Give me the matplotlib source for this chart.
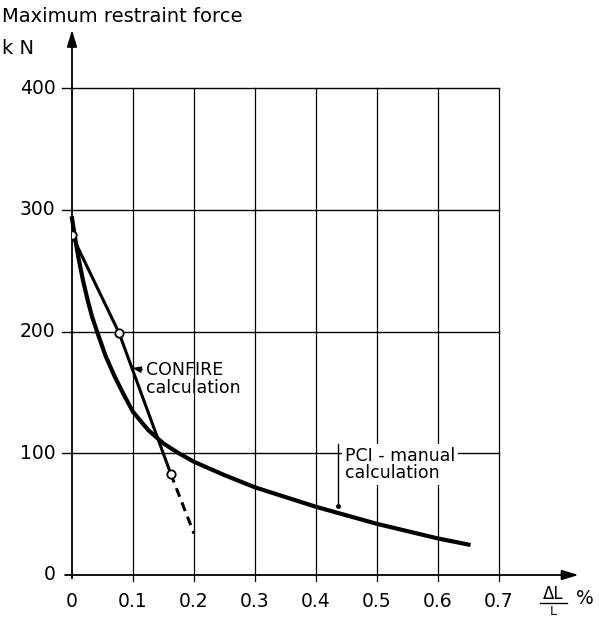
import numpy as np
import matplotlib
matplotlib.use('Agg')
import matplotlib.pyplot as plt

# PCI-manual calculation curve
pci_x = [0.0, 0.005, 0.01, 0.018, 0.026, 0.033, 0.041, 0.055, 0.07, 0.084, 0.1,
         0.125, 0.15, 0.175, 0.2, 0.25, 0.3, 0.35, 0.4, 0.45, 0.5, 0.55, 0.6, 0.65]
pci_y = [293, 277, 262, 242, 225, 212, 200, 180, 163, 149, 134,
         119, 108, 100, 93, 82, 72, 64, 56, 49, 42, 36, 30, 25]

# CONFIRE calculation points, solid part and dashed extrapolation
confire_x = [0.0, 0.077, 0.162]
confire_y = [279, 199, 83]
confire_dash_x = [0.162, 0.2]
confire_dash_y = [83, 34]

xticks = [0, 0.1, 0.2, 0.3, 0.4, 0.5, 0.6, 0.7]
xticklabels = ['0', '0.1', '0.2', '0.3', '0.4', '0.5', '0.6', '0.7']
yticks = [0, 100, 200, 300, 400]

W, H = 599, 620
fig = plt.figure(figsize=(W / 100, H / 100), dpi=100)
# axes placed so that x 0..0.7 -> px 72..499, y 0..400 -> px 575..88
ax = fig.add_axes([72 / W, (H - 575) / H, (499 - 72) / W, (575 - 88) / H])
ax.set_xlim(0, 0.7)
ax.set_ylim(0, 400)
ax.axis('off')

# grid
for x in xticks[1:]:
    ax.plot([x, x], [-5, 400], color='black', lw=0.9, clip_on=False)
for y in yticks[1:]:
    ax.plot([-0.016, 0.7], [y, y], color='black', lw=1.0, clip_on=False)

# axes with arrows
ax.annotate('', xy=(0, 450), xytext=(0, -5), annotation_clip=False,
            arrowprops=dict(arrowstyle='-|>,head_length=1.0,head_width=0.3',
                            color='black', lw=1.3))
ax.annotate('', xy=(0.835, 0), xytext=(-0.016, 0), annotation_clip=False,
            arrowprops=dict(arrowstyle='-|>,head_length=1.0,head_width=0.3',
                            color='black', lw=1.3))

# tick labels
for x, lab in zip(xticks, xticklabels):
    ax.text(x, -14, lab, ha='center', va='top', fontsize=13.5)
for y in yticks:
    ax.text(-0.027, y, str(y), ha='right', va='center', fontsize=13.5)

# curves
ax.plot(pci_x, pci_y, color='black', lw=3.0, clip_on=False, zorder=3,
        solid_joinstyle='round')
ax.plot(confire_x, confire_y, color='black', lw=2.2, zorder=3)
ax.plot(confire_dash_x, confire_dash_y, color='black', lw=2.2,
        linestyle=(0, (3, 2)), zorder=3)
ax.plot(confire_x, confire_y, linestyle='none', marker='o', markersize=6,
        markerfacecolor='white', markeredgecolor='black', markeredgewidth=1.3,
        zorder=4)

# annotations
ax.annotate('CONFIRE\ncalculation', xy=(0.099, 170), xytext=(0.122, 161),
            fontsize=12.5, va='center', ha='left', linespacing=0.95,
            arrowprops=dict(arrowstyle='-|>,head_length=0.4,head_width=0.15',
                            color='black', lw=1.0, shrinkA=1, shrinkB=0))
ax.text(0.447, 91, 'PCI - manual\ncalculation', fontsize=12.5, va='center',
        ha='left', linespacing=0.95,
        bbox=dict(facecolor='white', edgecolor='none', pad=2))
ax.plot([0.436, 0.436], [57, 108], color='black', lw=1.0)
ax.plot([0.436], [57], marker='o', markersize=2.5, color='black')

# axis titles
fig.text(2 / W, 1 - 17 / H, 'Maximum restraint force', fontsize=14,
         va='center', ha='left')
fig.text(2 / W, 1 - 48 / H, 'k N', fontsize=14, va='center', ha='left')
ax.text(0.789, -16, '\u0394L', fontsize=12, va='center', ha='center')
ax.plot([0.768, 0.812], [-23, -23], color='black', lw=1.0, clip_on=False)
ax.text(0.789, -30, 'L', fontsize=9, va='center', ha='center')
ax.text(0.827, -19, '%', fontsize=13.5, va='center', ha='left')

fig.savefig('out.png', dpi=100)
